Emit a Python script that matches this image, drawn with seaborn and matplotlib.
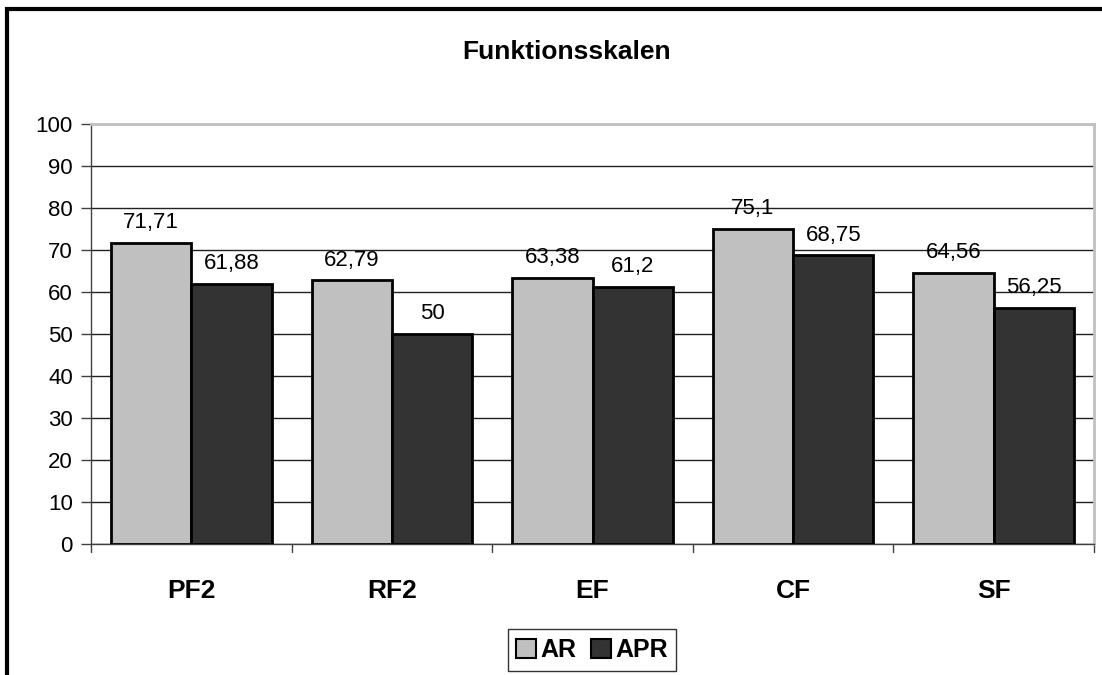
import pandas as pd
import numpy as np
import seaborn as sns
import matplotlib.pyplot as plt
from matplotlib.patches import Rectangle

# Data
categories = ['PF2', 'RF2', 'EF', 'CF', 'SF']
series = ['AR', 'APR']
ar_values = [71.71, 62.79, 63.38, 75.1, 64.56]
apr_values = [61.88, 50, 61.2, 68.75, 56.25]
value_labels_ar = ['71,71', '62,79', '63,38', '75,1', '64,56']
value_labels_apr = ['61,88', '50', '61,2', '68,75', '56,25']

df = pd.DataFrame({
    'Skala': categories * 2,
    'Gruppe': ['AR'] * len(categories) + ['APR'] * len(categories),
    'Wert': ar_values + apr_values,
})

sns.set_theme(style="white")
plt.rcParams['font.family'] = ['Liberation Sans', 'DejaVu Sans']
plt.rcParams['text.color'] = 'black'
plt.rcParams['xtick.color'] = 'black'
plt.rcParams['ytick.color'] = 'black'

fig = plt.figure(figsize=(11.02, 6.75), dpi=100)
ax = fig.add_axes([91 / 1102, 1 - 544 / 675, (1094 - 91) / 1102, (544 - 124) / 675])

palette = {'AR': '#c0c0c0', 'APR': '#333333'}
sns.barplot(data=df, x='Skala', y='Wert', hue='Gruppe', order=categories,
            hue_order=series, palette=palette, saturation=1, width=0.8,
            edgecolor='black', linewidth=2, ax=ax, zorder=3)

# value labels
for cont, labels in zip(ax.containers, [value_labels_ar, value_labels_apr]):
    ax.bar_label(cont, labels=labels, padding=7, fontsize=16, color='black')

ax.set_ylim(0, 100)
ax.set_xlim(-0.5, len(categories) - 0.5)
ax.set_yticks(np.arange(0, 101, 10))
ax.tick_params(axis='y', labelsize=16, length=7, width=1, color='#404040',
               direction='out', left=True, pad=6)
ax.set_xticks(range(len(categories)))
ax.set_xticklabels(categories, fontsize=19, fontweight='bold')
ax.tick_params(axis='x', length=0, pad=25)
# tick marks at category boundaries
for b in np.arange(-0.5, len(categories), 1):
    ax.plot([b, b], [0, -0.018], transform=ax.get_xaxis_transform(),
            color='#404040', lw=1, clip_on=False)
ax.set_xlabel('')
ax.set_ylabel('')
ax.yaxis.grid(True, color='#222222', linewidth=1)
ax.set_axisbelow(True)

for side in ['top', 'right']:
    ax.spines[side].set_color('#c0c0c0')
    ax.spines[side].set_linewidth(2)
for side in ['left', 'bottom']:
    ax.spines[side].set_color('#404040')
    ax.spines[side].set_linewidth(1)

ax.legend_.remove()
handles = [Rectangle((0, 0), 1, 1, facecolor=palette[s], edgecolor='black', lw=1.5) for s in series]
leg = fig.legend(handles, series, loc='center', bbox_to_anchor=(592 / 1102, 1 - 650 / 675),
                 ncol=2, frameon=True, fancybox=False, edgecolor='black',
                 prop={'size': 18, 'weight': 'bold'}, handlelength=0.8, handleheight=0.8,
                 handletextpad=0.15, columnspacing=0.6, borderpad=0.35)
leg.get_frame().set_linewidth(1)

fig.text(567 / 1102, 1 - 52 / 675, 'Funktionsskalen', ha='center', va='center',
         fontsize=19, fontweight='bold')

# outer chart border (cut off at right and bottom)
fig.patches.append(Rectangle((7 / 1102, -0.2), 1.2, 1.2 - 9 / 675, transform=fig.transFigure,
                             fill=False, edgecolor='black', linewidth=3))

fig.savefig('out.png', dpi=100)
